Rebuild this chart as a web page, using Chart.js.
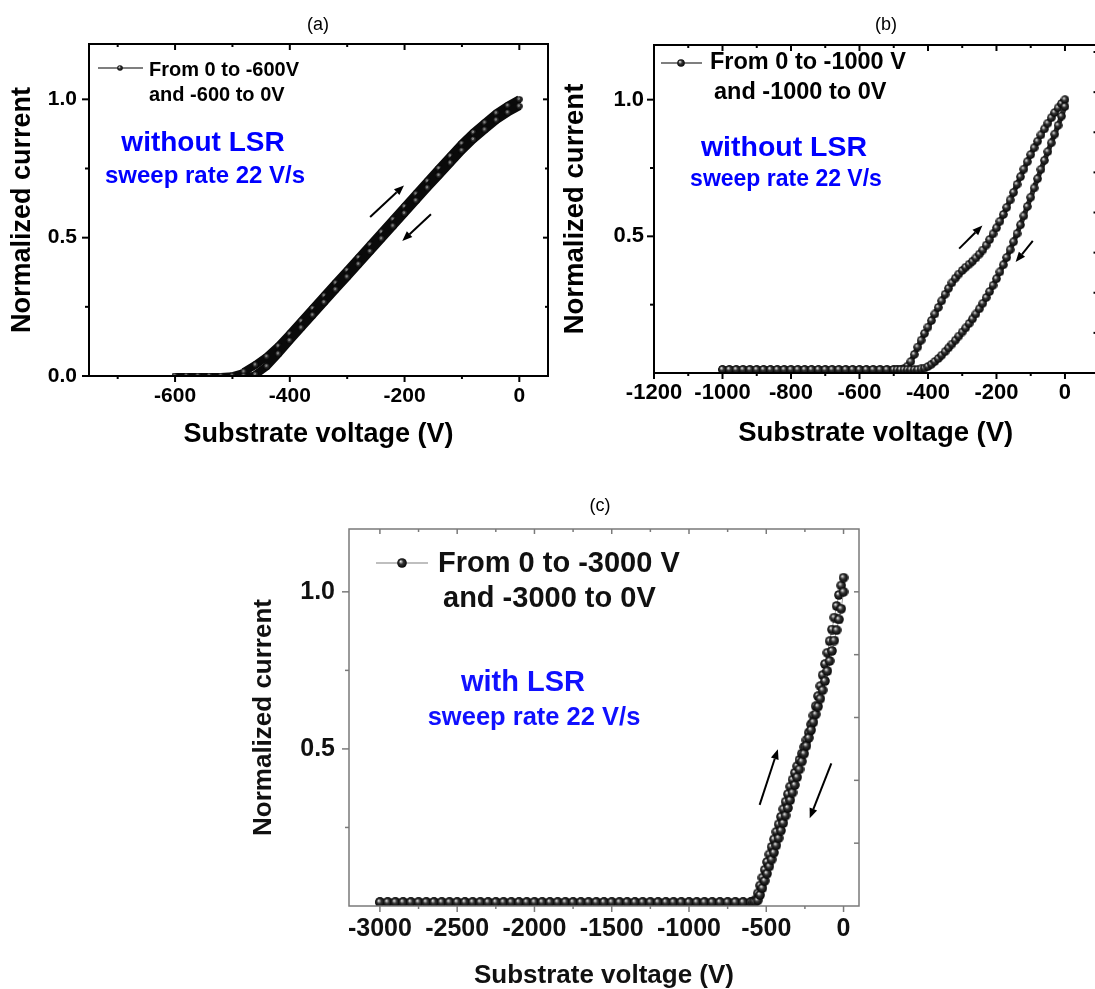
<!DOCTYPE html>
<html>
<head>
<meta charset="utf-8">
<script src="https://cdn.jsdelivr.net/npm/chart.js@4.4.1/dist/chart.umd.min.js"></script>
<style>
html, body { margin: 0; padding: 0; background: #fff; }
#page { position: relative; width: 1095px; height: 989px; overflow: hidden; background: #fff; }
canvas { position: absolute; }
.t { position: absolute; font-family: 'Liberation Sans', Arial, Helvetica, sans-serif; font-weight: bold; line-height: 1; white-space: nowrap; color: #000; }
.c { transform: translate(-50%, -50%); }
.l { transform: translate(0, -50%); }
.blue { color: #0000ff; }
.panel { font-weight: normal; font-size: 18px; }
</style>
</head>
<body>
<div id="page">
  <canvas id="chartA" width="560" height="460" style="left:0;top:0"></canvas>
  <canvas id="chartB" width="560" height="460" style="left:548px;top:0"></canvas>
  <canvas id="chartC" width="640" height="509" style="left:240px;top:480px"></canvas>

  <div class="t c panel" style="left:318px;top:24px">(a)</div>
  <div class="t c panel" style="left:886px;top:24px">(b)</div>
  <div class="t c panel" style="left:600px;top:505px">(c)</div>

  <div class="t l" style="left:149px;top:69px;font-size:20px">From 0 to -600V</div>
  <div class="t l" style="left:149px;top:94px;font-size:20px">and -600 to 0V</div>
  <div class="t c blue" style="left:203px;top:142px;font-size:28px">without LSR</div>
  <div class="t c blue" style="left:205px;top:175px;font-size:24px">sweep rate 22 V/s</div>

  <div class="t l" style="left:710px;top:62px;font-size:23.5px">From 0 to -1000 V</div>
  <div class="t l" style="left:714px;top:92px;font-size:23.5px">and -1000 to 0V</div>
  <div class="t c blue" style="left:784px;top:146px;font-size:28.5px">without LSR</div>
  <div class="t c blue" style="left:786px;top:178px;font-size:23px">sweep rate 22 V/s</div>

  <div class="t l" style="left:438px;top:562px;font-size:29px;color:#111">From 0 to -3000 V</div>
  <div class="t l" style="left:443px;top:597px;font-size:29px;color:#111">and -3000 to 0V</div>
  <div class="t c blue" style="left:523px;top:681px;font-size:29px;color:#1010ff">with LSR</div>
  <div class="t c blue" style="left:534px;top:717px;font-size:25.5px;color:#1010ff">sweep rate 22 V/s</div>
</div>
<script>
const FONT = "'Liberation Sans', Arial, Helvetica, sans-serif";

// (a) 0 -> -600 V and back, without LSR
const voltA = [-600, -580, -560, -540, -520, -500, -480, -460, -440, -420, -400, -380, -360, -340, -320, -300,
  -280, -260, -240, -220, -200, -180, -160, -140, -120, -100, -80, -60, -40, -20, 0];
const upA = [0, 0, 0, 0, 0, 0.003, 0.015, 0.04, 0.07, 0.108, 0.152, 0.198, 0.244, 0.29, 0.336, 0.382,
  0.428, 0.474, 0.52, 0.566, 0.612, 0.658, 0.704, 0.75, 0.795, 0.84, 0.88, 0.915, 0.95, 0.977, 1.0];
const downA = [0, 0, 0, 0, 0, 0, 0, 0.005, 0.035, 0.08, 0.128, 0.174, 0.22, 0.266, 0.312, 0.358,
  0.404, 0.45, 0.496, 0.542, 0.588, 0.634, 0.68, 0.725, 0.77, 0.815, 0.855, 0.89, 0.925, 0.952, 0.975];
const xTicksA = [-700, -600, -500, -400, -300, -200, -100, 0];
const xLabelsA = [-600, -400, -200, 0];
const yTicksA = [0, 0.25, 0.5, 0.75, 1.0];
const yLabelsA = [0, 0.5, 1.0];

// (b) 0 -> -1000 V and back, without LSR
const voltBFlat = [-1000, -980, -960, -940, -920, -900, -880, -860, -840, -820, -800, -780, -760, -740, -720, -700,
  -680, -660, -640, -620, -600, -580, -560, -540, -520, -500];
const currBFlat = [0.013, 0.013, 0.013, 0.013, 0.013, 0.013, 0.013, 0.013, 0.013, 0.013, 0.013, 0.013, 0.013,
  0.013, 0.013, 0.013, 0.013, 0.013, 0.013, 0.013, 0.013, 0.013, 0.013, 0.013, 0.013, 0.013];
const voltBRamp = [-490, -480, -470, -460, -450, -440, -430, -420, -410, -400, -390, -380, -370, -360, -350, -340,
  -330, -320, -310, -300, -290, -280, -270, -260, -250, -240, -230, -220, -210, -200, -190, -180, -170, -160,
  -150, -140, -130, -120, -110, -100, -90, -80, -70, -60, -50, -40, -30, -20, -10, 0];
const upBRamp = [0.013, 0.013, 0.016, 0.025, 0.042, 0.068, 0.095, 0.12, 0.145, 0.168, 0.192, 0.216, 0.24, 0.264,
  0.288, 0.31, 0.33, 0.347, 0.362, 0.375, 0.387, 0.398, 0.409, 0.421, 0.435, 0.45, 0.468, 0.488, 0.509, 0.531,
  0.555, 0.58, 0.606, 0.633, 0.661, 0.69, 0.718, 0.746, 0.773, 0.799, 0.824, 0.848, 0.871, 0.893, 0.914, 0.934,
  0.953, 0.97, 0.986, 1.0];
const downBRamp = [0.013, 0.013, 0.013, 0.013, 0.013, 0.013, 0.013, 0.015, 0.018, 0.024, 0.032, 0.042, 0.053,
  0.065, 0.078, 0.092, 0.106, 0.12, 0.135, 0.15, 0.165, 0.181, 0.198, 0.216, 0.235, 0.255, 0.276, 0.298, 0.321,
  0.345, 0.37, 0.396, 0.423, 0.451, 0.48, 0.51, 0.542, 0.575, 0.609, 0.643, 0.677, 0.711, 0.745, 0.778, 0.81,
  0.842, 0.874, 0.906, 0.94, 0.975];
const xTicksB = [-1200, -1100, -1000, -900, -800, -700, -600, -500, -400, -300, -200, -100, 0];
const xLabelsB = [-1200, -1000, -800, -600, -400, -200, 0];
const yTicksB = [0.25, 0.5, 0.75, 1.0];
const yLabelsB = [0.5, 1.0];
const rightTicksB = [1, 2, 3, 4, 5, 6, 7, 8];

// (c) 0 -> -3000 V and back, with LSR
const voltCFlat = [-3000, -2950, -2900, -2850, -2800, -2750, -2700, -2650, -2600, -2550, -2500, -2450, -2400,
  -2350, -2300, -2250, -2200, -2150, -2100, -2050, -2000, -1950, -1900, -1850, -1800, -1750, -1700, -1650,
  -1600, -1550, -1500, -1450, -1400, -1350, -1300, -1250, -1200, -1150, -1100, -1050, -1000, -950, -900,
  -850, -800, -750, -700, -650];
const currCFlat = [0.012, 0.012, 0.012, 0.012, 0.012, 0.012, 0.012, 0.012, 0.012, 0.012, 0.012, 0.012, 0.012,
  0.012, 0.012, 0.012, 0.012, 0.012, 0.012, 0.012, 0.012, 0.012, 0.012, 0.012, 0.012, 0.012, 0.012, 0.012,
  0.012, 0.012, 0.012, 0.012, 0.012, 0.012, 0.012, 0.012, 0.012, 0.012, 0.012, 0.012, 0.012, 0.012, 0.012,
  0.012, 0.012, 0.012, 0.012, 0.012];
const voltCRamp = [-600, -585, -570, -555, -540, -525, -510, -495, -480, -465, -450, -435, -420, -405, -390,
  -375, -360, -345, -330, -315, -300, -285, -270, -255, -240, -225, -210, -195, -180, -165, -150, -135, -120,
  -105, -90, -75, -60, -45, -30, -15, 0];
const upCRamp = [0.012, 0.014, 0.02, 0.04, 0.065, 0.09, 0.115, 0.14, 0.164, 0.188, 0.212, 0.236, 0.26, 0.284,
  0.308, 0.332, 0.356, 0.38, 0.402, 0.424, 0.445, 0.465, 0.485, 0.506, 0.528, 0.552, 0.578, 0.606, 0.636,
  0.668, 0.70, 0.735, 0.77, 0.806, 0.843, 0.88, 0.918, 0.955, 0.99, 1.02, 1.045];
const downCRamp = [0.012, 0.012, 0.013, 0.018, 0.035, 0.057, 0.08, 0.103, 0.126, 0.148, 0.17, 0.193, 0.216,
  0.24, 0.264, 0.288, 0.312, 0.337, 0.361, 0.385, 0.41, 0.435, 0.46, 0.485, 0.51, 0.535, 0.56, 0.585, 0.61,
  0.635, 0.66, 0.687, 0.716, 0.748, 0.78, 0.812, 0.845, 0.878, 0.912, 0.946, 1.0];
const xTicksC = [-3000, -2750, -2500, -2250, -2000, -1750, -1500, -1250, -1000, -750, -500, -250, 0];
const xLabelsC = [-3000, -2500, -2000, -1500, -1000, -500, 0];
const yTicksC = [0.25, 0.5, 0.75, 1.0];
const yLabelsC = [0.5, 1.0];
const rightTicksC = [1, 2, 3, 4, 5];

// shaded sphere used as point symbol
function ball(d, hi) {
  const c = document.createElement('canvas');
  c.width = d; c.height = d;
  const g = c.getContext('2d');
  const r = d / 2;
  const grad = g.createRadialGradient(r * 0.7, r * 0.65, 0, r, r, r);
  grad.addColorStop(0, hi || '#ffffff');
  grad.addColorStop(0.15, '#bbbbbb');
  grad.addColorStop(0.45, '#333333');
  grad.addColorStop(1, '#000000');
  g.fillStyle = grad;
  g.beginPath();
  g.arc(r, r, r - 0.2, 0, Math.PI * 2);
  g.fill();
  return c;
}

// frame, mirrored ticks, sweep arrows and legend sample
function decor(o) {
  return {
    id: 'decor',
    afterDatasetsDraw(chart) {
      const { ctx, chartArea: a, scales } = chart;
      ctx.save();
      ctx.strokeStyle = o.color;
      ctx.lineWidth = o.tickWidth;
      o.ticks.forEach(t => {
        const s = scales[t.scale];
        t.values.forEach(v => {
          const p = s.getPixelForValue(v);
          const len = t.major.includes(v) ? t.len[0] : t.len[1];
          ctx.beginPath();
          if (t.side === 'bottom' || t.side === 'top') {
            if (p < a.left - 1 || p > a.right + 1) return;
            const y0 = t.side === 'bottom' ? a.bottom : a.top;
            ctx.moveTo(p, y0);
            ctx.lineTo(p, y0 + len);
          } else {
            if (p < a.top - 1 || p > a.bottom + 1) return;
            const x0 = t.side === 'left' ? a.left : a.right;
            ctx.moveTo(x0, p);
            ctx.lineTo(x0 - len, p);
          }
          ctx.stroke();
        });
      });
      ctx.lineWidth = o.frameWidth;
      ctx.strokeRect(a.left, a.top, a.right - a.left, a.bottom - a.top);

      ctx.strokeStyle = '#000';
      ctx.fillStyle = '#000';
      ctx.lineWidth = 2;
      o.arrows.forEach(([from, to]) => {
        const x1 = scales.x.getPixelForValue(from[0]), y1 = scales.y.getPixelForValue(from[1]);
        const x2 = scales.x.getPixelForValue(to[0]), y2 = scales.y.getPixelForValue(to[1]);
        const ang = Math.atan2(y2 - y1, x2 - x1);
        const hl = 10, hw = 4;
        const bx = x2 - hl * Math.cos(ang), by = y2 - hl * Math.sin(ang);
        ctx.beginPath(); ctx.moveTo(x1, y1); ctx.lineTo(bx, by); ctx.stroke();
        ctx.beginPath();
        ctx.moveTo(x2, y2);
        ctx.lineTo(bx + hw * Math.sin(ang), by - hw * Math.cos(ang));
        ctx.lineTo(bx - hw * Math.sin(ang), by + hw * Math.cos(ang));
        ctx.closePath();
        ctx.fill();
      });

      const L = o.legend;
      ctx.strokeStyle = L.color;
      ctx.lineWidth = L.width;
      ctx.beginPath(); ctx.moveTo(L.x1, L.y); ctx.lineTo(L.x2, L.y); ctx.stroke();
      ctx.drawImage(L.ball, L.bx - L.ball.width / 2, L.y - L.ball.height / 2);
      ctx.restore();
    }
  };
}

function plot(id, p) {
  const flatY = 0.02;
  const isFlat = c => c.p0.parsed.y < flatY && c.p1.parsed.y < flatY;
  const series = vals => ({
    data: p.volt.map((v, i) => ({ x: v, y: vals[i] })),
    showLine: true,
    borderColor: p.lineColor,
    borderWidth: p.lineWidth,
    segment: {
      borderWidth: c => isFlat(c) ? p.flatWidth : p.lineWidth,
      borderColor: c => isFlat(c) ? p.flatColor : p.lineColor
    },
    pointStyle: p.ball,
    pointRadius: p.ball.width / 2,
    pointBorderWidth: 0
  });
  const tickFont = { family: FONT, size: p.tickSize, weight: 'bold' };
  const titleFont = { family: FONT, size: p.titleSize, weight: 'bold', lineHeight: p.titleLH };
  const scales = {
    x: {
      type: 'linear', position: 'bottom', min: p.xMin, max: p.xMax,
      afterBuildTicks: s => { s.ticks = p.xTicks.map(v => ({ value: v })); },
      afterFit: s => { s.height = p.xHeight; },
      grid: { display: false, drawTicks: false },
      border: { display: false },
      ticks: {
        autoSkip: false, maxRotation: 0, padding: p.xTickPad, color: p.text, font: tickFont,
        callback: v => p.xLabels.includes(v) ? String(v) : ''
      },
      title: { display: true, text: 'Substrate voltage (V)', color: p.text, font: titleFont,
        padding: { top: 0, bottom: p.xTitlePad } }
    },
    y: {
      type: 'linear', position: 'left', min: 0, max: 1.2,
      afterBuildTicks: s => { s.ticks = p.yTicks.map(v => ({ value: v })); },
      afterFit: s => { s.width = p.yWidth; },
      grid: { display: false, drawTicks: false },
      border: { display: false },
      ticks: {
        autoSkip: false, padding: p.yTickPad, color: p.text, font: tickFont,
        callback: v => p.yLabels.includes(v) ? v.toFixed(1) : ''
      },
      title: { display: true, text: 'Normalized current', color: p.text, font: titleFont,
        padding: { top: p.yTitlePad, bottom: 0 } }
    }
  };
  if (p.y2Max) {
    scales.y2 = { type: 'linear', position: 'right', display: false, min: 0, max: p.y2Max };
  }
  return new Chart(document.getElementById(id), {
    type: 'scatter',
    data: { datasets: [series(p.down), series(p.up)] },
    options: {
      responsive: false,
      animation: false,
      events: [],
      layout: { padding: { left: 0, bottom: 0, top: p.padTop, right: p.padRight } },
      plugins: { legend: { display: false }, tooltip: { enabled: false } },
      scales
    },
    plugins: [decor(p.decor)]
  });
}

plot('chartA', {
  volt: voltA, up: upA, down: downA,
  xMin: -750, xMax: 50, xTicks: xTicksA, xLabels: xLabelsA,
  yTicks: yTicksA, yLabels: yLabelsA,
  padTop: 44, padRight: 12, yWidth: 89, xHeight: 84,
  tickSize: 21, titleSize: 27, titleLH: 1.2, text: '#000',
  xTickPad: 8, yTickPad: 12, xTitlePad: 9, yTitlePad: 6,
  ball: ball(7, '#555555'), lineColor: '#0a0a0a', lineWidth: 8, flatColor: '#0a0a0a', flatWidth: 6,
  decor: {
    color: '#000', tickWidth: 2, frameWidth: 2,
    ticks: [
      { scale: 'x', side: 'bottom', values: xTicksA, major: xLabelsA, len: [6, 3] },
      { scale: 'x', side: 'top', values: xTicksA, major: xLabelsA, len: [6, 3] },
      { scale: 'y', side: 'left', values: yTicksA, major: yLabelsA, len: [7, 4] },
      { scale: 'y', side: 'right', values: yTicksA, major: yLabelsA, len: [5, 3] }
    ],
    arrows: [[[-260, 0.575], [-201, 0.689]], [[-154, 0.585], [-204, 0.488]]],
    legend: { x1: 98, x2: 143, y: 68, bx: 120, ball: ball(6), color: '#000', width: 1.2 }
  }
});

plot('chartB', {
  volt: voltBFlat.concat(voltBRamp), up: currBFlat.concat(upBRamp), down: currBFlat.concat(downBRamp),
  xMin: -1200, xMax: 95, xTicks: xTicksB, xLabels: xLabelsB,
  yTicks: yTicksB, yLabels: yLabelsB, y2Max: 8.175,
  padTop: 45, padRight: 10.5, yWidth: 106, xHeight: 87,
  tickSize: 22, titleSize: 27.5, titleLH: 1.2, text: '#000',
  xTickPad: 7, yTickPad: 10, xTitlePad: 10.5, yTitlePad: 10.5,
  ball: ball(9), lineColor: '#2a2a2a', lineWidth: 5, flatColor: '#444', flatWidth: 6,
  decor: {
    color: '#000', tickWidth: 2, frameWidth: 2,
    ticks: [
      { scale: 'x', side: 'bottom', values: xTicksB, major: xLabelsB, len: [6, 3] },
      { scale: 'x', side: 'top', values: xTicksB, major: xLabelsB, len: [6, 3] },
      { scale: 'y', side: 'left', values: yTicksB, major: yLabelsB, len: [7, 4] },
      { scale: 'y2', side: 'right', values: rightTicksB, major: [], len: [4, 4] }
    ],
    arrows: [[[-309, 0.455], [-241, 0.54]], [[-94, 0.483], [-144, 0.406]]],
    legend: { x1: 113, x2: 154, y: 63, bx: 133, ball: ball(8), color: '#000', width: 1.2 }
  }
});

plot('chartC', {
  volt: voltCFlat.concat(voltCRamp), up: currCFlat.concat(upCRamp), down: currCFlat.concat(downCRamp),
  xMin: -3200, xMax: 100, xTicks: xTicksC, xLabels: xLabelsC,
  yTicks: yTicksC, yLabels: yLabelsC, y2Max: 6,
  padTop: 49, padRight: 21, yWidth: 109, xHeight: 83,
  tickSize: 25, titleSize: 26, titleLH: 1.0, text: '#111',
  xTickPad: 8, yTickPad: 14, xTitlePad: 0, yTitlePad: 11,
  ball: ball(10), lineColor: '#999', lineWidth: 1, flatColor: '#555', flatWidth: 6,
  decor: {
    color: '#7a7a7a', tickWidth: 1.5, frameWidth: 1.5,
    ticks: [
      { scale: 'x', side: 'bottom', values: xTicksC, major: xLabelsC, len: [6, 3] },
      { scale: 'x', side: 'top', values: xTicksC, major: xLabelsC, len: [5, 3] },
      { scale: 'y', side: 'left', values: yTicksC, major: yLabelsC, len: [7, 4] },
      { scale: 'y2', side: 'right', values: rightTicksC, major: [], len: [5, 5] }
    ],
    arrows: [[[-543, 0.322], [-425, 0.499]], [[-79, 0.454], [-219, 0.279]]],
    legend: { x1: 136, x2: 188, y: 83, bx: 162, ball: ball(10), color: '#aaa', width: 1.5 }
  }
});
</script>
</body>
</html>
